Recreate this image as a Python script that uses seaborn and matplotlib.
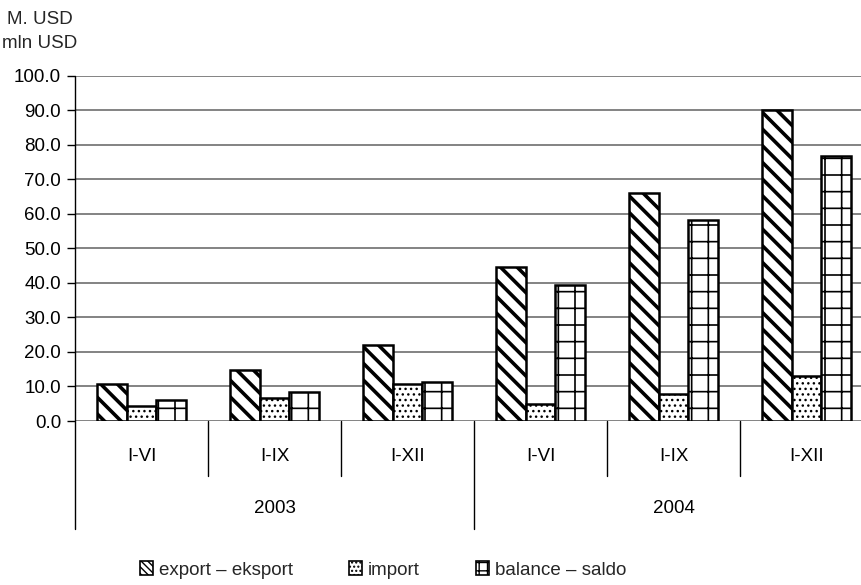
import matplotlib
matplotlib.use("Agg")
import matplotlib.pyplot as plt
import matplotlib.transforms as mtransforms
from matplotlib.patches import Patch
import pandas as pd
import seaborn as sns

# ---- data (M. USD) ----
years = ["2003", "2004"]
periods = ["I-VI", "I-IX", "I-XII"]
series = ["export – eksport", "import", "balance – saldo"]
export = [10.7, 14.7, 22.0, 44.6, 66.0, 90.0]
imports = [4.3, 6.8, 10.6, 4.9, 7.8, 12.9]
balance = [6.2, 8.4, 11.2, 39.5, 58.1, 76.8]
yticks = [0, 10, 20, 30, 40, 50, 60, 70, 80, 90, 100]

slots = [f"{y} {p}" for y in years for p in periods]
rows = []
for name, vals in zip(series, [export, imports, balance]):
    for slot, v in zip(slots, vals):
        rows.append({"slot": slot, "series": name, "value": v})
df = pd.DataFrame(rows)

sns.set_theme(style="white")
plt.rcParams["font.family"] = ["Liberation Sans", "DejaVu Sans"]
plt.rcParams["hatch.color"] = "black"
FS = 13.5

fig = plt.figure(figsize=(8.62, 5.85), dpi=100)
ax = fig.add_axes([75 / 862, 164 / 585, 798 / 862, 345.5 / 585])

sns.barplot(data=df, x="slot", y="value", hue="series", order=slots,
            hue_order=series, width=0.67, gap=0, dodge=True, ax=ax,
            palette=["white"] * 3, saturation=1, edgecolor="black",
            linewidth=1.8, legend=False, errorbar=None)

hatches = ["\\\\", "...", "+"]
hatch_lw = [2.6, 1.0, 1.2]
for cont, h, hl in zip(ax.containers, hatches, hatch_lw):
    for bar in cont:
        bar.set_hatch(h)
        if hasattr(bar, "set_hatch_linewidth"):
            bar.set_hatch_linewidth(hl)

ax.set_ylim(0, 100)
ax.set_xlim(-0.5, 5.5)
ax.set_yticks(yticks)
ax.set_yticklabels([f"{v:.1f}" for v in yticks], fontsize=FS)
ax.yaxis.grid(True, color="#6e6e6e", linewidth=1.2)
ax.set_axisbelow(True)
ax.set_xticks([])
ax.set_xlabel("")
ax.set_ylabel("")
for s in ["top", "right", "bottom", "left"]:
    ax.spines[s].set_visible(False)
ax.tick_params(axis="y", direction="out", length=6, width=1, color="black",
               left=True, pad=4, labelcolor="black")

# multi-level category axis
trans = mtransforms.blended_transform_factory(ax.transData, ax.transAxes)
ax.plot([-0.5, -0.5], [1, -0.3126], transform=trans, color="black", lw=1, clip_on=False)
for xb in [0.5, 1.5, 3.5, 4.5]:
    ax.plot([xb, xb], [0, -0.159], transform=trans, color="black", lw=1, clip_on=False)
ax.plot([2.5, 2.5], [0, -0.3126], transform=trans, color="black", lw=1, clip_on=False)
for i, slot in enumerate(slots):
    ax.text(i, -0.1027, slot.split(" ")[1], transform=trans, ha="center",
            va="center", fontsize=FS, color="black")
for j, y in enumerate(years):
    ax.text(1 + 3 * j, -0.253, y, transform=trans, ha="center", va="center",
            fontsize=FS, color="black")

fig.text(40 / 862, 1 - 20 / 585, "M. USD", ha="center", va="center", fontsize=FS)
fig.text(40 / 862, 1 - 43 / 585, "mln USD", ha="center", va="center", fontsize=FS)

# legend swatches use a finer version of each pattern so it fits the small box
legend_hatches = ["\\\\\\\\\\", "....", "++"]
handles = []
for h, hl in zip(legend_hatches, [2.2, 1.0, 1.0]):
    p = Patch(facecolor="white", edgecolor="black", hatch=h, linewidth=1.2)
    if hasattr(p, "set_hatch_linewidth"):
        p.set_hatch_linewidth(hl)
    handles.append(p)
fig.legend(handles, series, loc="center", bbox_to_anchor=(383 / 862, 1 - 570 / 585),
           ncol=3, frameon=False, fontsize=FS, handlelength=0.7,
           handleheight=0.7, handletextpad=0.3, columnspacing=3.0,
           borderaxespad=0, borderpad=0)

fig.savefig("out.png", dpi=100)
